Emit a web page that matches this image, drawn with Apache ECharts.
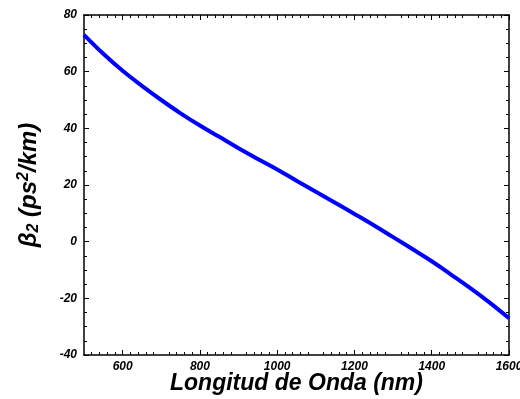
<!DOCTYPE html>
<html><head><meta charset="utf-8">
<script src="https://cdn.jsdelivr.net/npm/echarts@6/dist/echarts.min.js"></script>
<style>html,body{margin:0;padding:0;background:#fff}#c{width:520px;height:399px}</style>
</head><body><div id="c"></div>
<script>
const wavelength = [500,550,600,650,700,750,800,850,900,950,1000,1050,1100,1150,1200,1250,1300,1350,1400,1450,1500,1550,1600];
const beta2 = [73,66.3,60.3,55,50,45.3,41,37,33,29.2,25.5,21.5,17.6,13.7,9.8,5.8,1.6,-2.6,-6.9,-11.6,-16.4,-21.5,-27];
const xLabels = [600,800,1000,1200,1400,1600];
const xTitle = 'Longitud de Onda (nm)';

const font = {fontFamily:'Liberation Sans, Arial, sans-serif', fontWeight:'bold', fontStyle:'italic', color:'#000'};
const axLine = {show:true, onZero:false, lineStyle:{color:'#000', width:1.5}};
function xAx(pos, show){
  return {type:'value', position:pos, min:500, max:1600, interval:100,
    axisLine:axLine, splitLine:{show:false},
    axisTick:{show:true, inside:true, length:5, customValues:xLabels, lineStyle:{color:'#000'}},
    minorTick:{show:true, splitNumber:5, length:3, lineStyle:{color:'#000'}},
    axisLabel:{show:show, customValues:xLabels, margin:6, fontSize:12, formatter:v=>String(v), ...font},
    name: show ? xTitle : '', nameLocation:'middle', nameGap:17, nameMoveOverlap:false,
    nameTextStyle:{fontSize:23, ...font}};
}
function yAx(pos, show){
  return {type:'value', position:pos, min:-40, max:80, interval:20,
    axisLine:axLine, splitLine:{show:false},
    axisTick:{show:true, inside:true, length:5, lineStyle:{color:'#000'}},
    minorTick:{show:true, splitNumber:4, length:3, lineStyle:{color:'#000'}},
    axisLabel:{show:show, margin:7, fontSize:12, formatter:v=>String(v), ...font},
    name: show ? '{b|β}{s|2}{b| (ps}{p|2}{b|/km)}' : '', nameLocation:'middle', nameGap:42, nameRotate:90, nameMoveOverlap:false,
    nameTextStyle:{...font, rich:{
      b:{fontSize:24, ...font},
      s:{fontSize:16, ...font, verticalAlign:'bottom', padding:[10,0,0,0]},
      p:{fontSize:16, ...font, verticalAlign:'top', padding:[0,0,10,0]}
    }}};
}
const chart = echarts.init(document.getElementById('c'), null, {renderer:'canvas'});
chart.setOption({
  animation:false,
  grid:{left:84, right:11, top:15, bottom:44, containLabel:false, outerBoundsMode:'none'},
  xAxis:[xAx('bottom', true), xAx('top', false)],
  yAxis:[yAx('left', true), yAx('right', false)],
  series:[{type:'line', data:wavelength.map((w,i)=>[w,beta2[i]]), smooth:0.4, showSymbol:false,
    lineStyle:{color:'#0000ff', width:4}, clip:true}]
});
</script></body></html>
